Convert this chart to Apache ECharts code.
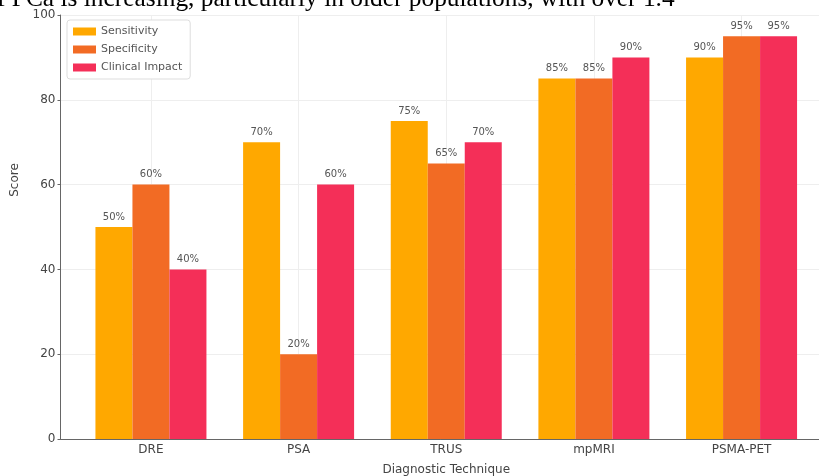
<!DOCTYPE html>
<html>
<head>
<meta charset="utf-8">
<script src="https://cdn.jsdelivr.net/npm/echarts@6/dist/echarts.min.js"></script>
<style>
  html, body { margin: 0; padding: 0; background: #fff; }
  #chart { width: 819px; height: 476px; }
</style>
</head>
<body>
<div id="chart"></div>
<script>
// Diagnostic techniques and their scores (percent)
const techniques = ['DRE', 'PSA', 'TRUS', 'mpMRI', 'PSMA-PET'];
const sensitivity = [50, 70, 75, 85, 90];
const specificity = [60, 20, 65, 85, 95];
const clinicalImpact = [40, 60, 70, 90, 95];
const seriesNames = ['Sensitivity', 'Specificity', 'Clinical Impact'];
const yTicks = [0, 20, 40, 60, 80, 100];
const captionLine = 'f PCa is increasing, particularly in older populations, with over 1.4';

const colors = ['#FFA800', '#F26B24', '#F42F58'];
const positions = techniques.map((_, i) => i);

function barSeries(name, values, color) {
  return {
    name: name,
    type: 'bar',
    barWidth: 37,
    barGap: '0%',
    data: values.map((v, i) => [i, v]),
    itemStyle: { color: color },
    label: {
      show: true,
      position: 'top',
      distance: 5,
      formatter: p => p.value[1] + '%',
      fontFamily: 'DejaVu Sans',
      fontSize: 10,
      color: '#555'
    }
  };
}

const chart = echarts.init(document.getElementById('chart'), null, { renderer: 'canvas' });
chart.setOption({
  animation: false,
  backgroundColor: '#fff',
  grid: { left: 60.5, right: -13, top: 15, bottom: 37, containLabel: false, outerBoundsMode: 'none' },
  legend: {
    orient: 'vertical',
    left: 67,
    top: 20,
    data: seriesNames,
    backgroundColor: '#fff',
    borderColor: '#ddd',
    borderWidth: 1,
    borderRadius: 3,
    padding: [5, 8, 5, 6],
    itemWidth: 23,
    itemHeight: 8,
    itemGap: 5,
    icon: 'rect',
    textStyle: { fontFamily: 'DejaVu Sans', fontSize: 11, color: '#555', lineHeight: 13 }
  },
  xAxis: {
    type: 'value',
    min: -0.6125,
    max: 4.6125,
    name: 'Diagnostic Technique',
    nameLocation: 'middle',
    nameGap: 25,
    nameTextStyle: { fontFamily: 'DejaVu Sans', fontSize: 12, color: '#444' },
    axisLine: { show: true, onZero: false, lineStyle: { color: '#666', width: 1 } },
    axisTick: { show: true, inside: true, customValues: positions, length: 3, lineStyle: { color: '#666' } },
    axisLabel: {
      customValues: positions,
      formatter: v => techniques[Math.round(v)],
      fontFamily: 'DejaVu Sans',
      fontSize: 12,
      color: '#444',
      margin: 5
    },
    splitLine: { show: true, lineStyle: { color: '#eee', width: 1 } }
  },
  yAxis: {
    type: 'value',
    min: yTicks[0],
    max: yTicks[yTicks.length - 1],
    interval: 20,
    axisLine: { show: true, onZero: false, lineStyle: { color: '#666', width: 1 } },
    axisTick: { show: true, length: 3, lineStyle: { color: '#666' } },
    axisLabel: { fontFamily: 'DejaVu Sans', fontSize: 12, color: '#444', margin: 5 },
    splitLine: { show: true, lineStyle: { color: '#eee', width: 1 } }
  },
  graphic: [
    {
      type: 'text',
      x: 15,
      y: 180,
      rotation: Math.PI / 2,
      style: {
        text: 'Score',
        font: '12px "DejaVu Sans"',
        fill: '#444',
        textAlign: 'center',
        textVerticalAlign: 'middle'
      }
    },
    {
      type: 'text',
      x: -3,
      y: 12,
      style: {
        text: captionLine,
        font: '25.4px "Liberation Serif"',
        fill: '#000',
        textAlign: 'left',
        textVerticalAlign: 'bottom'
      }
    }
  ],
  series: [
    barSeries(seriesNames[0], sensitivity, colors[0]),
    barSeries(seriesNames[1], specificity, colors[1]),
    barSeries(seriesNames[2], clinicalImpact, colors[2])
  ]
});
</script>
</body>
</html>
